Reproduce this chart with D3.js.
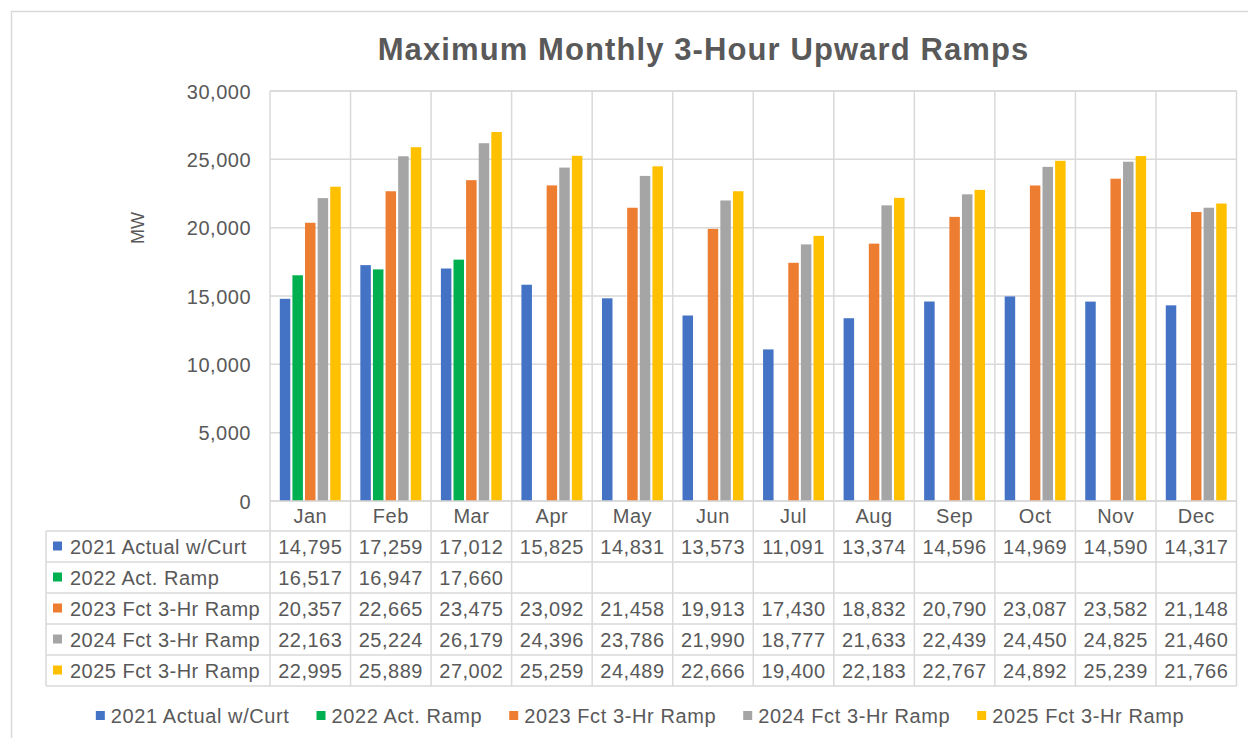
<!DOCTYPE html>
<html><head><meta charset="utf-8">
<script src="https://cdn.jsdelivr.net/npm/d3@7"></script>
<style>
html,body{margin:0;padding:0;background:#fff;}
text{font-family:"Liberation Sans",Arial,sans-serif;fill:#595959;}
</style></head>
<body><svg id="c" width="1248" height="738"></svg>
<script>
const months = ["Jan","Feb","Mar","Apr","May","Jun","Jul","Aug","Sep","Oct","Nov","Dec"];
const seriesNames = ["2021 Actual w/Curt","2022 Act. Ramp","2023 Fct 3-Hr Ramp","2024 Fct 3-Hr Ramp","2025 Fct 3-Hr Ramp"];
const seriesColors = ["#4472C4","#00B050","#ED7D31","#A5A5A5","#FFC000"];
const s2021 = [14795,17259,17012,15825,14831,13573,11091,13374,14596,14969,14590,14317];
const s2022 = [16517,16947,17660,null,null,null,null,null,null,null,null,null];
const s2023 = [20357,22665,23475,23092,21458,19913,17430,18832,20790,23087,23582,21148];
const s2024 = [22163,25224,26179,24396,23786,21990,18777,21633,22439,24450,24825,21460];
const s2025 = [22995,25889,27002,25259,24489,22666,19400,22183,22767,24892,25239,21766];
const yTicks = [0,5000,10000,15000,20000,25000,30000];
const title = "Maximum Monthly 3-Hour Upward Ramps";
const yLabel = "MW";

const values = [s2021,s2022,s2023,s2024,s2025];
const svg = d3.select("#c");
const grid = "#d9d9d9";
const fmt = d3.format(",");

// outer border
svg.append("rect").attr("x",11.5).attr("y",11.5).attr("width",1260).attr("height",760)
  .attr("fill","none").attr("stroke",grid).attr("stroke-width",1.5);

const L=270, R=1236.5, T=91, B=501;
const x = d3.scaleBand().domain(months).range([L,R]).paddingInner(0).paddingOuter(0);
const xs = d3.scaleBand().domain(d3.range(5)).range([0,x.bandwidth()]).paddingInner(0.167).paddingOuter(0.778);
const y = d3.scaleLinear().domain([0,30000]).range([B,T]);

// title
svg.append("text").attr("x",703.5).attr("y",60).attr("text-anchor","middle")
  .style("font-size","31px").style("font-weight","bold").style("letter-spacing","1.1px").text(title);

// gridlines
svg.append("g").selectAll("line").data(yTicks).join("line")
  .attr("x1",L).attr("x2",R).attr("y1",d=>y(d)).attr("y2",d=>y(d))
  .attr("stroke",grid).attr("stroke-width",1.5);

// y axis labels
const yAxis = d3.axisLeft(y).tickValues(yTicks).tickFormat(fmt).tickSize(0).tickPadding(19);
const ya = svg.append("g").attr("transform",`translate(${L},0)`).call(yAxis);
ya.select(".domain").remove();
ya.selectAll("text").style("font-size","20px").style("letter-spacing","0.5px")
  .attr("fill","#595959").style("font-family","'Liberation Sans',Arial,sans-serif").attr("dy","0.35em");

svg.append("text").attr("transform","translate(144,228) rotate(-90)").attr("text-anchor","middle")
  .style("font-size","18px").text(yLabel);

// table geometry
const rowH = 31;
const tTop = 531, tLeft = 46;
const tBottom = tTop + rowH*5;

// vertical lines
const bounds = months.map(m=>x(m)).concat([R]);
svg.append("g").selectAll("line").data(bounds).join("line")
  .attr("x1",d=>d).attr("x2",d=>d).attr("y1",T).attr("y2",tBottom)
  .attr("stroke",grid).attr("stroke-width",1.5);
// top frame
svg.append("line").attr("x1",L).attr("x2",R).attr("y1",T).attr("y2",T).attr("stroke",grid).attr("stroke-width",1.5);
// table horizontal lines
svg.append("g").selectAll("line").data(d3.range(6)).join("line")
  .attr("x1",tLeft).attr("x2",R).attr("y1",i=>tTop+i*rowH).attr("y2",i=>tTop+i*rowH)
  .attr("stroke",grid).attr("stroke-width",1.5);
svg.append("line").attr("x1",tLeft).attr("x2",tLeft).attr("y1",tTop).attr("y2",tBottom).attr("stroke",grid).attr("stroke-width",1.5);

// bars
const gb = svg.append("g");
values.forEach((arr,si)=>{
  gb.selectAll(null).data(arr.map((v,i)=>({m:months[i],v}))).join("rect")
    .filter(d=>d.v!=null)
    .attr("x",d=>x(d.m)+xs(si)).attr("width",xs.bandwidth())
    .attr("y",d=>y(d.v)).attr("height",d=>B-y(d.v))
    .attr("fill",seriesColors[si]);
});

// x axis line
svg.append("line").attr("x1",L).attr("x2",R).attr("y1",B).attr("y2",B).attr("stroke",grid).attr("stroke-width",1.5);

// month labels
svg.append("g").selectAll("text").data(months).join("text")
  .attr("x",d=>x(d)+x.bandwidth()/2).attr("y",523).attr("text-anchor","middle")
  .style("font-size","20px").style("letter-spacing","0.5px").text(d=>d);

// table rows
seriesNames.forEach((name,si)=>{
  const cy = tTop + si*rowH + rowH/2;
  svg.append("rect").attr("x",53).attr("y",cy-5).attr("width",9).attr("height",9).attr("fill",seriesColors[si]);
  svg.append("text").attr("x",70).attr("y",cy).attr("dy","0.35em")
    .style("font-size","20px").style("letter-spacing","0.5px").text(name);
  svg.append("g").selectAll("text").data(values[si].map((v,i)=>({m:months[i],v}))).join("text")
    .filter(d=>d.v!=null)
    .attr("x",d=>x(d.m)+x.bandwidth()/2).attr("y",cy).attr("dy","0.35em").attr("text-anchor","middle")
    .style("font-size","20px").style("letter-spacing","0.5px").text(d=>fmt(d.v));
});

// legend
const lg = svg.append("g");
let lx = 0;
const gap = 27;
seriesNames.forEach((name,si)=>{
  const g = lg.append("g");
  g.append("rect").attr("x",0).attr("y",-5).attr("width",9).attr("height",9).attr("fill",seriesColors[si]);
  const t = g.append("text").attr("x",15).attr("y",0).attr("dy","0.35em")
    .style("font-size","20px").style("letter-spacing","0.6px").text(name);
  const w = t.node().getComputedTextLength();
  g.attr("transform",`translate(${lx},0)`);
  lx += 15 + w + gap;
});
const totalW = lx - gap;
lg.attr("transform",`translate(${640 - totalW/2},716)`);
</script></body></html>
